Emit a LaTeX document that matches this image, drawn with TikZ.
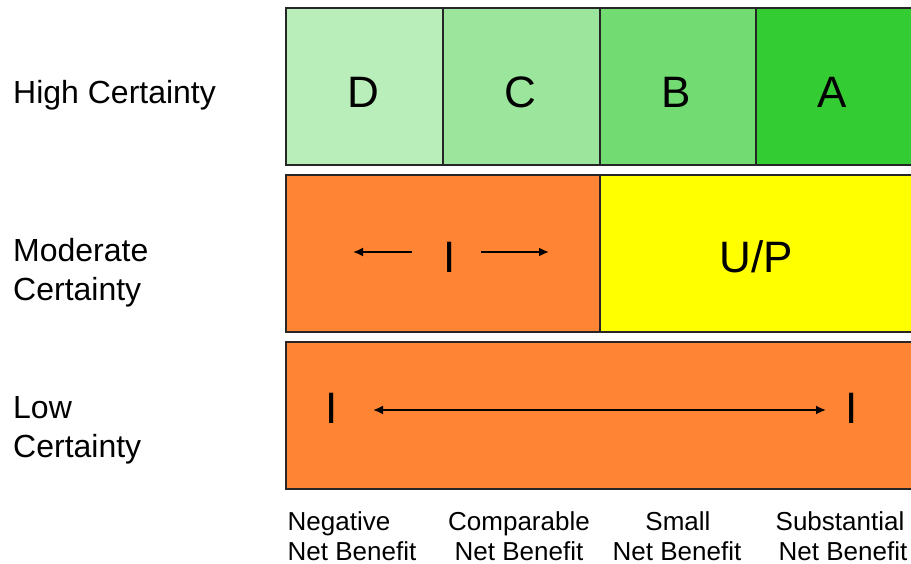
\documentclass[tikz,border=0pt]{standalone}
\usepackage{fontspec}
\setmainfont{Liberation Sans}
\usetikzlibrary{arrows.meta}
\definecolor{gD}{HTML}{B9EDB9}
\definecolor{gC}{HTML}{9CE59C}
\definecolor{gB}{HTML}{72DC72}
\definecolor{gA}{HTML}{33CC33}
\definecolor{orng}{HTML}{FF8433}
\definecolor{yel}{HTML}{FFFF00}
\tikzset{
  cell/.style={draw=black!85, line width=1.8pt, anchor=north west, inner sep=0pt},
  rowlab/.style={anchor=base west, inner sep=0pt, align=left, font=\fontsize{32}{39}\selectfont},
  collab/.style={anchor=base, inner sep=0pt, align=center, font=\fontsize{26}{30}\selectfont},
  big/.style={anchor=base, inner sep=0pt, font=\fontsize{44}{50}\selectfont},
  arr/.style={line width=1.8pt, -{Latex[length=10pt,width=9pt]}},
  darr/.style={line width=1.8pt, {Latex[length=10pt,width=9pt]}-{Latex[length=10pt,width=9pt]}}
}
\begin{document}
\begin{tikzpicture}[x=1pt,y=-1pt]
\useasboundingbox (0,0) rectangle (911,564);
% row 1
\node[cell, fill=gD, minimum width=157pt, minimum height=157pt] (D) at (285,7) {};
\node[cell, fill=gC, minimum width=157pt, minimum height=157pt] (C) at (442,7) {};
\node[cell, fill=gB, minimum width=156pt, minimum height=157pt] (B) at (599,7) {};
\node[cell, fill=gA, minimum width=158pt, minimum height=157pt] (A) at (755,7) {};
\node[big] (tD) at (363,108) {D};
\node[big] (tC) at (520,108) {C};
\node[big] (tB) at (676,108) {B};
\node[big] (tA) at (832,108) {A};
% row 2
\node[cell, fill=orng, minimum width=314pt, minimum height=157pt] (M1) at (285,174) {};
\node[cell, fill=yel, minimum width=314pt, minimum height=157pt] (UP) at (599,174) {};
\node[big] (tUP) at (756,273) {U/P};
\node[big] (I2) at (450,273) {I};
\coordinate (l1) at (412,252);
\coordinate (l2) at (353,252);
\coordinate (r1) at (481,252);
\coordinate (r2) at (549,252);
\draw[arr] (l1) -- (l2);
\draw[arr] (r1) -- (r2);
% row 3
\node[cell, fill=orng, minimum width=628pt, minimum height=147pt] (L) at (285,341) {};
\node[big] (I3a) at (332,423) {I};
\node[big] (I3b) at (852,423) {I};
\coordinate (d1) at (373,410);
\coordinate (d2) at (826,410);
\draw[darr] (d1) -- (d2);
% row labels
\node[rowlab] (hc) at (13,104) {High Certainty};
\node[rowlab] (mc) at (13,301) {Moderate\\Certainty};
\node[rowlab] (lc) at (13,457) {Low\\Certainty};
% column labels
\node[collab, align=left] (neg) at (352,560) {Negative\\Net Benefit};
\node[collab] (cmp) at (519,560) {Comparable\\Net Benefit};
\node[collab] (sml) at (677,560) {\hspace*{2pt}Small\\Net Benefit};
\node[collab] (sub) at (840,560) {Substantial\\\hspace*{6pt}Net Benefit};
\end{tikzpicture}
\end{document}
